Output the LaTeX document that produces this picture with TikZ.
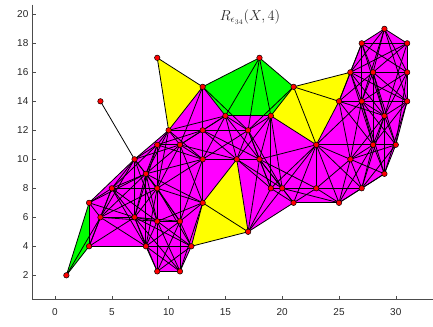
\documentclass[tikz,border=0pt]{standalone}
\usepackage{fontspec}
\newfontfamily\axfont{Liberation Sans}
\definecolor{mmag}{RGB}{255,0,255}
\definecolor{myel}{RGB}{255,255,0}
\definecolor{mgrn}{RGB}{0,255,0}
\definecolor{mred}{RGB}{255,0,0}
\begin{document}
\begin{tikzpicture}[x=11.36pt,y=14.5pt,
  dot/.style={circle,fill=mred,draw=black,line width=0.5pt,minimum size=5.5pt,inner sep=0pt},
  edge/.style={line width=0.8pt,black},
  axisline/.style={line width=0.6pt,black!70},
  ticklab/.style={font=\axfont\fontsize{10}{12}\selectfont,text=black!85,inner sep=0pt}]
\useasboundingbox (-4.842,-1.497) rectangle (33.275,20.986);
\def\PX{{1,3,3,4,5,7,7,4,8,8,9,9,9,11,11,12,13,9,10,11,13,13,9,13,15,17,16,18,18,19,21,17,19,20,21,23,23,25,27,25,26,27,26,27,29,31,28,31,31,29,28,30,29}}
\def\PY{{2,4,7,6,8,6,10,14,9,4,8,5.72,2.27,5.72,2.27,4,7,11,12,11,12,10,17,15,13,12,10,10,17,13,15,5,8,8,7,8,11,7,8,14,10,14,16,18,19,18,16,16,14,13,11,11,9}}
\foreach \i in {0,...,52}{
  \pgfmathsetmacro\xx{\PX[\i]}
  \pgfmathsetmacro\yy{\PY[\i]}
  \expandafter\xdef\csname ptx\i\endcsname{\xx}
  \expandafter\xdef\csname pty\i\endcsname{\yy}
  \coordinate (p\i) at (\xx,\yy);
}
% filled simplices
\fill[myel] (p22) -- (p23) -- (p18) -- cycle;
\fill[myel] (p15) -- (p16) -- (p26) -- (p31) -- cycle;
\fill[myel] (p30) -- (p42) -- (p39) -- (p36) -- (p29) -- cycle;
\fill[mgrn] (p0) -- (p1) -- (p3) -- (p2) -- cycle;
\fill[mgrn] (p23) -- (p28) -- (p30) -- (p29) -- (p24) -- cycle;
\fill[mmag] (p2) -- (p6) -- (p18) -- (p23) -- (p24) -- (p29) -- (p36) -- (p39) -- (p42) -- (p43) -- (p44) -- (p45) -- (p47) -- (p48) -- (p51) -- (p52) -- (p38) -- (p37) -- (p34) -- (p31) -- (p26) -- (p16) -- (p15) -- (p14) -- (p12) -- (p9) -- (p1) -- cycle;
% edges: all pairs closer than epsilon
\foreach \i in {0,...,51}{
  \pgfmathtruncatemacro\js{\i+1}
  \edef\xa{\csname ptx\i\endcsname}
  \edef\ya{\csname pty\i\endcsname}
  \foreach \j in {\js,...,52}{
    \edef\xb{\csname ptx\j\endcsname}
    \edef\yb{\csname pty\j\endcsname}
    \pgfmathsetmacro\dd{(\xa-\xb)*(\xa-\xb)+(\ya-\yb)*(\ya-\yb)}
    \ifdim\dd pt<30.25pt \draw[edge] (p\i) -- (p\j);\fi
  }
}
% vertices
\foreach \i in {0,...,52}{
  \node[dot] (v\i) at (p\i) {};
}
% axes
\draw[axisline] (-2,20.66) -- (-2,0.317) -- (33.275,0.317);
\foreach \t in {0,5,...,30}{
  \draw[axisline] (\t,0.317) -- ++(0,0.24);
  \node[ticklab] (xl\t) at (\t,-0.51) {\t};
}
\foreach \t in {2,4,...,20}{
  \draw[axisline] (-2,\t) -- ++(0.31,0);
  \node[ticklab,anchor=east] (yl\t) at (-2.33,\t) {\t};
}
\node[font=\fontsize{14}{16}\selectfont,text=black!85] (title) at (17.17,19.81) {$R_{\epsilon_{34}}(X,4)$};
\end{tikzpicture}
\end{document}
